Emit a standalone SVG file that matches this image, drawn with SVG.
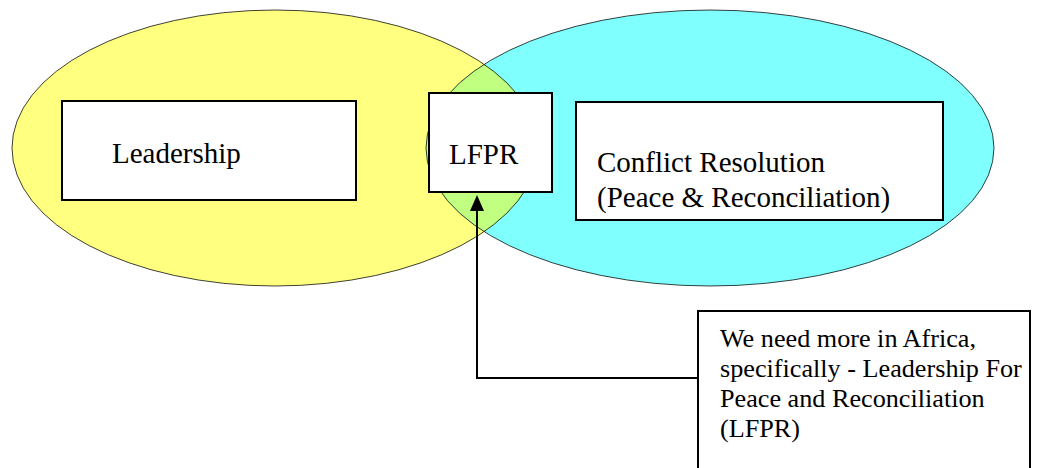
<svg xmlns="http://www.w3.org/2000/svg" width="1064" height="468" viewBox="0 0 1064 468">
<style>
.box{fill:#fff;stroke:#000;stroke-width:2}
.t{font-family:"Liberation Serif","Times New Roman",serif;font-size:29px;fill:#000}
.c{font-family:"Liberation Serif","Times New Roman",serif;font-size:26.2px;fill:#000}
.edge{fill:none;stroke:#000;stroke-width:2}
.outline{fill:none;stroke:#000;stroke-width:1;stroke-opacity:0.75}
</style>
<defs>
<clipPath id="yclip"><ellipse cx="275" cy="148" rx="263" ry="138"/></clipPath>
</defs>
<rect width="1064" height="468" fill="#fff"/>
<g id="venn">
<ellipse id="leadership-circle" cx="275" cy="148" rx="263" ry="138" fill="#FFFF80"/>
<ellipse id="conflict-circle" cx="710" cy="148" rx="284" ry="138" fill="#80FFFF"/>
<ellipse cx="710" cy="148" rx="284" ry="138" fill="#C0FF80" clip-path="url(#yclip)"/>
<ellipse class="outline" cx="275" cy="148" rx="263" ry="138"/>
<ellipse class="outline" cx="710" cy="148" rx="284" ry="138"/>
</g>
<g id="leadership">
<rect class="box" x="62" y="101" width="294" height="99"/>
<text class="t" x="112" y="163">Leadership</text>
</g>
<g id="lfpr">
<rect class="box" x="429" y="93" width="123" height="99"/>
<text class="t" x="449" y="164">LFPR</text>
</g>
<g id="conflict">
<rect class="box" x="576" y="102" width="367" height="118"/>
<text class="t" x="597" y="172">Conflict Resolution</text>
<text class="t" x="597" y="207">(Peace &amp; Reconciliation)</text>
</g>
<g id="callout">
<rect class="box" x="698" y="311" width="332" height="170" stroke-width="1.5"/>
<text class="c" x="720" y="347">We need more in Africa,</text>
<text class="c" x="720" y="377">specifically - Leadership For</text>
<text class="c" x="720" y="407">Peace and Reconciliation</text>
<text class="c" x="720" y="437">(LFPR)</text>
</g>
<g id="connectors">
<path class="edge" d="M697 378 H477 V210"/>
<polygon points="477,195 470,211 484,211" fill="#000"/>
</g>
</svg>
